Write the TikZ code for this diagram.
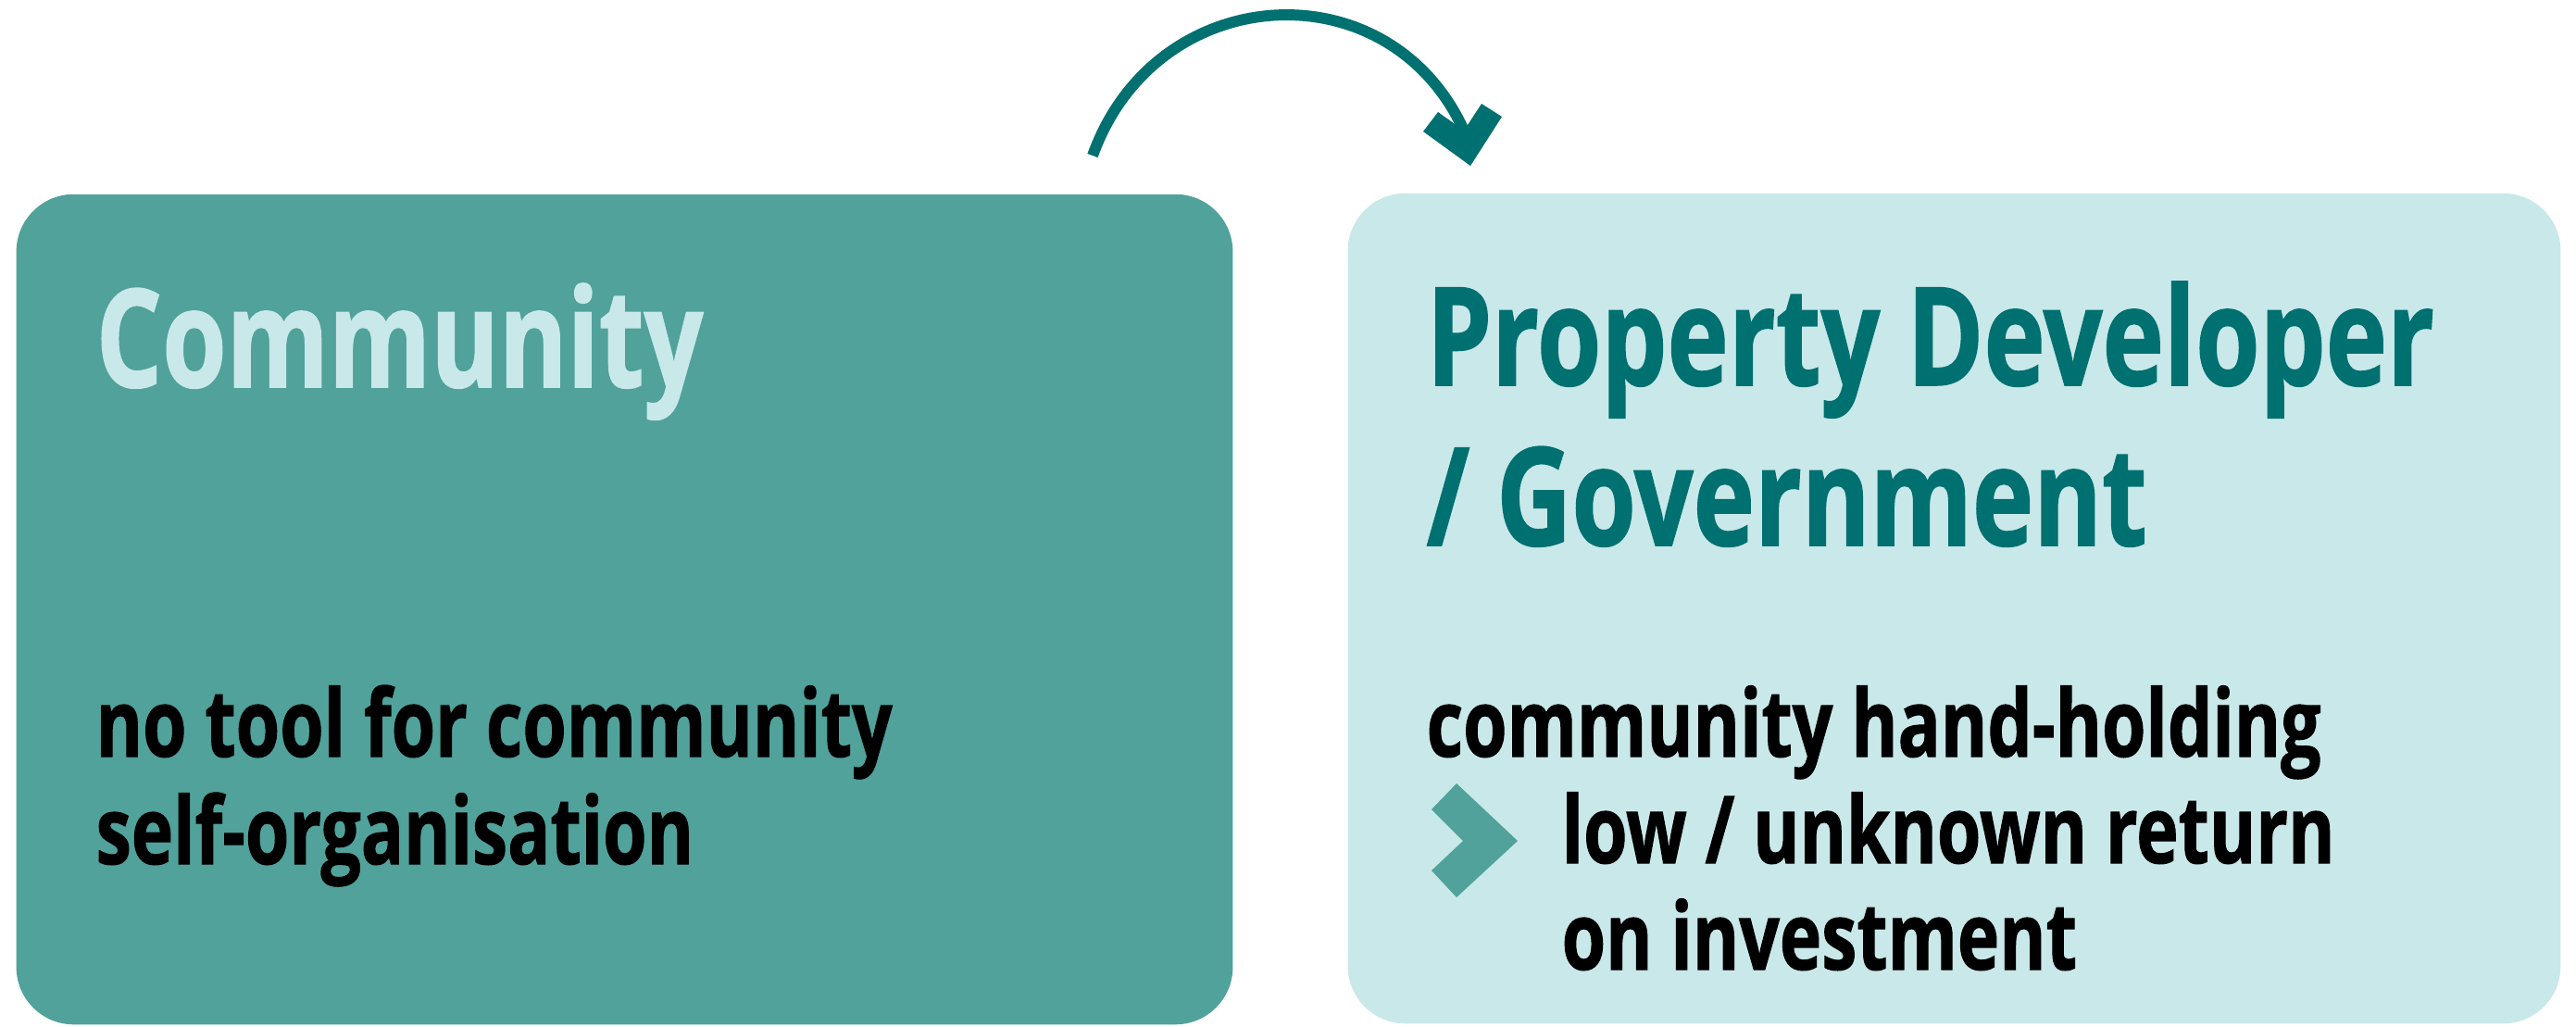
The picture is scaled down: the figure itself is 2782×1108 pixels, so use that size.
\documentclass[tikz,border=0pt]{standalone}
\usepackage{fontspec}
\setmainfont{Open Sans}[FakeStretch=0.76,FakeBold=1]
\usetikzlibrary{positioning}
\definecolor{boxdark}{RGB}{80,162,155}
\definecolor{boxlight}{RGB}{201,232,233}
\definecolor{tealdark}{RGB}{0,112,112}

\begin{document}
\begin{tikzpicture}
	[x=0.01cm,y=-0.01cm,
	box/.style={rectangle,rounded corners=0.62cm,inner sep=0,minimum height=8.96cm},
	headtext/.style={anchor=base west,inner sep=0,font=\fontsize{42}{49}\selectfont\bfseries},
	bodytext/.style={anchor=base west,inner sep=0,font=\fontsize{28.7}{33}\selectfont\bfseries},
	edge/.style={draw=tealdark,line width=3.4pt}]
	\useasboundingbox (0,0) rectangle (2782,1108);
	
	\node[box,fill=boxdark,minimum width=13.13cm] (comm) at (674.5,658) {};
	\node[box,fill=boxlight,minimum width=13.09cm] (dev) at (2110.5,657) {};
	
	\node[headtext,text=boxlight] (commhead) at (103,418) {Community};
	\node[bodytext] (commline1) at (103,817) {no tool for community};
	\node[bodytext] (commline2) at (103,933) {self-organisation};
	
	\node[headtext,text=tealdark] (devhead1) at (1540,416) {Property Developer};
	\node[headtext,text=tealdark] (devhead2) at (1540,589) {/ Government};
	\node[bodytext] (devline1) at (1540,817) {community hand-holding};
	\node[bodytext] (devline2) at (1686,932) {low / unknown return};
	\node[bodytext] (devline3) at (1686,1047) {on investment};
	
	\fill[boxdark] (1546,874) -- (1573,846) -- (1639,908) -- (1573,969) -- (1546,940) -- (1580,908) -- cycle;
	
	\coordinate (from) at (1180,168);
	\coordinate (to) at (1581,141);
	\draw[edge] (from) .. controls (1248,-22) and (1500,-37) .. (to);
	\fill[tealdark] (1537,142) -- (1553,121) -- (to) -- (1600,112) -- (1622,126) -- (1588,179) -- cycle;
\end{tikzpicture}
\end{document}
